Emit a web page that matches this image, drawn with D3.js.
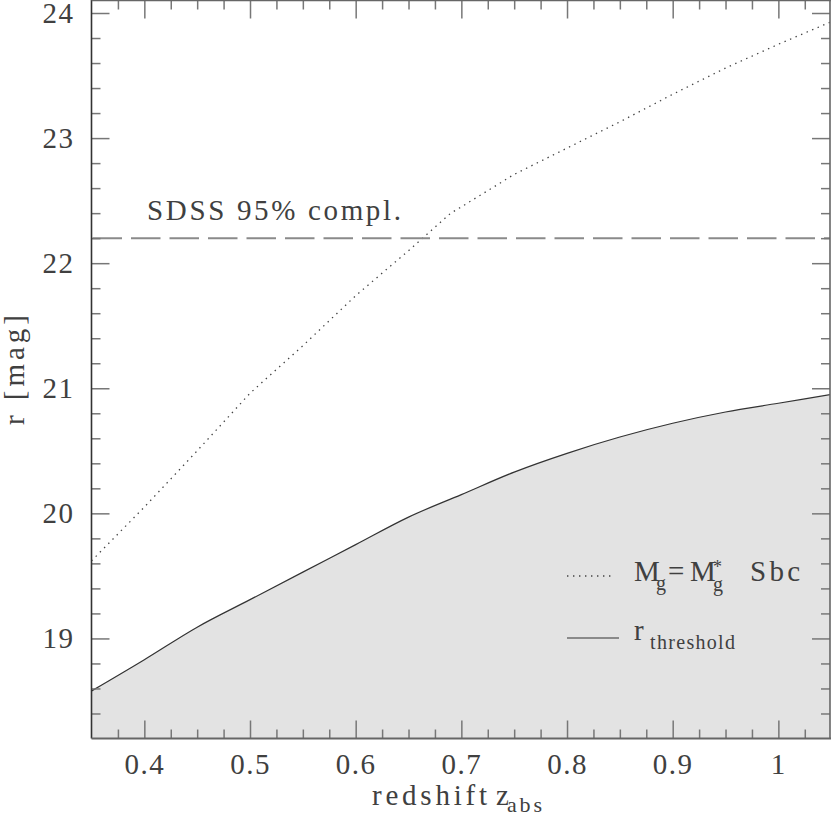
<!DOCTYPE html>
<html><head><meta charset="utf-8">
<script src="https://cdn.jsdelivr.net/npm/d3@7"></script>
<style>
html,body{margin:0;padding:0;background:#fff;}
svg{display:block;}
text{font-family:"Liberation Serif","Times New Roman",serif;fill:#404040;}
</style></head>
<body>
<svg id="chart" width="831" height="817"></svg>
<script>
// ---- data ----
const thresholdZ = [0.35,0.40,0.45,0.50,0.55,0.60,0.65,0.70,0.75,0.80,0.85,0.90,0.95,1.00,1.05];
const thresholdR = [18.58,18.83,19.09,19.31,19.53,19.75,19.97,20.15,20.33,20.48,20.61,20.72,20.81,20.88,20.95];
const sbcZ = [0.35,0.40,0.45,0.50,0.55,0.60,0.65,0.69,0.70,0.75,0.80,0.85,0.90,0.95,1.00,1.05];
const sbcR = [19.62,20.05,20.50,20.96,21.34,21.74,22.10,22.40,22.45,22.71,22.92,23.13,23.35,23.56,23.75,23.93];
const sdssLimit = 22.2;
const xTickValues = [0.4,0.5,0.6,0.7,0.8,0.9,1.0];
const xTickLabels = ["0.4","0.5","0.6","0.7","0.8","0.9","1"];
const yTickValues = [19,20,21,22,23,24];
const yTickLabels = ["19","20","21","22","23","24"];
const xDomain = [0.35,1.05];
const yDomain = [18.2,24.1];

// ---- layout ----
const L = 91.5, R = 830, T = 0.5, B = 738.5;
const svg = d3.select("#chart");
const x = d3.scaleLinear().domain(xDomain).range([L, R + 1.2]);
const y = d3.scaleLinear().domain(yDomain).range([B, T]);

const thr = thresholdZ.map((z,i)=>({z, r: thresholdR[i]}));
const sbc = sbcZ.map((z,i)=>({z, r: sbcR[i]}));

svg.append("clipPath").attr("id","clip").append("rect")
  .attr("x",L).attr("y",T).attr("width",R-L).attr("height",B-T);
const plot = svg.append("g").attr("clip-path","url(#clip)");

// shaded area below threshold
plot.append("path").datum(thr)
  .attr("fill","#e3e3e3")
  .attr("d", d3.area().x(d=>x(d.z)).y0(y(yDomain[0])).y1(d=>y(d.r)).curve(d3.curveMonotoneX));
plot.append("path").datum(thr)
  .attr("fill","none").attr("stroke","#333").attr("stroke-width",1.2)
  .attr("d", d3.line().x(d=>x(d.z)).y(d=>y(d.r)).curve(d3.curveMonotoneX));

// dotted Sbc curve
plot.append("path").datum(sbc)
  .attr("fill","none").attr("stroke","#444").attr("stroke-width",1.3)
  .attr("stroke-dasharray","1.4,4.6")
  .attr("d", d3.line().x(d=>x(d.z)).y(d=>y(d.r)));

// dashed SDSS limit
plot.append("line")
  .attr("x1",x(xDomain[0])).attr("x2",x(xDomain[1]))
  .attr("y1",y(sdssLimit)).attr("y2",y(sdssLimit))
  .attr("stroke","#8a8a8a").attr("stroke-width",2)
  .attr("stroke-dasharray","29.5,9").attr("stroke-dashoffset",-1);

// ---- axes ----
function styleTicks(g, w){ g.select(".domain").remove(); g.selectAll("line").attr("stroke","#777").attr("stroke-width",w||1.5); }
const xMinor = d3.range(0.375, 1.05, 0.025).filter(v=>Math.abs(Math.round(v*10)-v*10)>0.01);
const yMinor = d3.range(18.4, 24.05, 0.2).filter(v=>Math.abs(Math.round(v)-v)>0.01);

// bottom
svg.append("g").attr("transform",`translate(0,${B})`)
  .call(d3.axisBottom(x).tickValues(xMinor).tickSize(-9).tickFormat(""))
  .call(g=>styleTicks(g));
const xb = svg.append("g").attr("transform",`translate(0,${B})`)
  .call(d3.axisBottom(x).tickValues(xTickValues).tickSize(-18).tickPadding(15)
        .tickFormat((d,i)=>xTickLabels[i]))
  .call(g=>styleTicks(g));
xb.selectAll("text").attr("font-size",29).attr("fill","#404040")
  .attr("font-family","Liberation Serif, serif").attr("letter-spacing",1.5);
// top
svg.append("g").attr("transform",`translate(0,${T})`)
  .call(d3.axisTop(x).tickValues(xMinor).tickSize(-9).tickFormat(""))
  .call(g=>styleTicks(g));
svg.append("g").attr("transform",`translate(0,${T})`)
  .call(d3.axisTop(x).tickValues(xTickValues).tickSize(-18).tickFormat(""))
  .call(g=>styleTicks(g));
// left
svg.append("g").attr("transform",`translate(${L},0)`)
  .call(d3.axisLeft(y).tickValues(yMinor).tickSize(-9).tickFormat(""))
  .call(g=>styleTicks(g));
const yl = svg.append("g").attr("transform",`translate(${L},0)`)
  .call(d3.axisLeft(y).tickValues(yTickValues).tickSize(-18).tickPadding(18.5)
        .tickFormat((d,i)=>yTickLabels[i]))
  .call(g=>styleTicks(g));
yl.selectAll("text").attr("font-size",29).attr("fill","#404040")
  .attr("font-family","Liberation Serif, serif").attr("letter-spacing",1.5).attr("dx",1.5);
// right
svg.append("g").attr("transform",`translate(${R},0)`)
  .call(d3.axisRight(y).tickValues(yMinor).tickSize(-9).tickFormat(""))
  .call(g=>styleTicks(g));
svg.append("g").attr("transform",`translate(${R},0)`)
  .call(d3.axisRight(y).tickValues(yTickValues).tickSize(-18).tickFormat(""))
  .call(g=>styleTicks(g));

// frame
svg.append("line").attr("x1",L).attr("x2",L).attr("y1",T-1).attr("y2",B).attr("stroke","#333").attr("stroke-width",1.6);
svg.append("line").attr("x1",L).attr("x2",R+1).attr("y1",B).attr("y2",B).attr("stroke","#666").attr("stroke-width",1.8);
svg.append("line").attr("x1",L).attr("x2",R+1).attr("y1",T).attr("y2",T).attr("stroke","#666").attr("stroke-width",1.6);
svg.append("line").attr("x1",R).attr("x2",R).attr("y1",T).attr("y2",B).attr("stroke","#666").attr("stroke-width",1.6);

// ---- labels ----
svg.append("text").attr("x",147).attr("y",220).attr("font-size",29)
  .attr("textLength",254).attr("lengthAdjust","spacing").text("SDSS 95% compl.");

// x title
const xt = svg.append("text").attr("x",372).attr("y",805).attr("font-size",29);
xt.append("tspan").attr("textLength",115).attr("lengthAdjust","spacing").text("redshift");
xt.append("tspan").attr("x",496).text("z");
xt.append("tspan").attr("x",507).attr("dy",7).attr("font-size",22).attr("textLength",35).attr("lengthAdjust","spacing").text("abs");

// y title
svg.append("text").attr("transform","translate(24,370) rotate(-90)")
  .attr("text-anchor","middle").attr("font-size",29)
  .attr("textLength",110).attr("lengthAdjust","spacing").text("r [mag]");

// legend
svg.append("line").attr("x1",567).attr("x2",614).attr("y1",576).attr("y2",576)
  .attr("stroke","#444").attr("stroke-width",1.3).attr("stroke-dasharray","1.4,4.6");
svg.append("line").attr("x1",567).attr("x2",619).attr("y1",638).attr("y2",638)
  .attr("stroke","#333").attr("stroke-width",1.2);
const lg = svg.append("g").attr("font-size",29);
lg.append("text").attr("x",634).attr("y",581).text("M");
lg.append("text").attr("x",656).attr("y",590).attr("font-size",20).text("g");
lg.append("text").attr("x",668).attr("y",581).text("=");
lg.append("text").attr("x",690).attr("y",581).text("M");
lg.append("text").attr("x",713).attr("y",573).attr("font-size",18).text("*");
lg.append("text").attr("x",713).attr("y",591).attr("font-size",20).text("g");
lg.append("text").attr("x",750).attr("y",581).attr("textLength",50).attr("lengthAdjust","spacing").text("Sbc");
lg.append("text").attr("x",634).attr("y",640).text("r");
lg.append("text").attr("x",650).attr("y",649).attr("font-size",20)
  .attr("textLength",85).attr("lengthAdjust","spacing").text("threshold");
</script>
</body></html>
